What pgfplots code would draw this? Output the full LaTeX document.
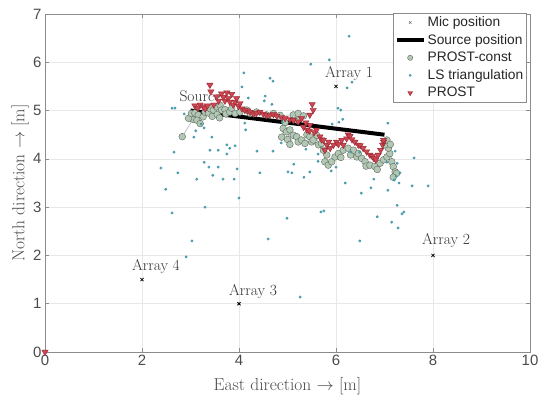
\documentclass[border=0pt]{standalone}
\usepackage{pgfplots}
\pgfplotsset{compat=1.18}
\usepackage{fontspec}
\newfontfamily\hv{Liberation Sans}
\definecolor{lscol}{RGB}{72,172,192}
\definecolor{circfill}{RGB}{178,200,180}
\definecolor{circedge}{RGB}{95,105,95}
\definecolor{redfill}{RGB}{205,70,82}
\definecolor{rededge}{RGB}{150,40,50}
\definecolor{gridc}{RGB}{232,232,232}
\definecolor{axc}{RGB}{140,140,140}
\definecolor{textc}{RGB}{75,75,75}
\begin{document}
\begin{tikzpicture}
\useasboundingbox (0,0) rectangle (539bp,396bp);
\begin{axis}[
  at={(45bp,44bp)}, anchor=south west,
  scale only axis, width=485bp, height=338bp,
  xmin=0, xmax=10, ymin=0, ymax=7,
  xtick={0,2,...,10}, ytick={0,1,...,7},
  grid=major, major grid style={color=gridc, line width=0.5bp},
  axis line style={color=axc, line width=0.6bp},
  tick style={color=axc, line width=0.6bp},
  tick align=inside, major tick length=4bp,
  /pgf/number format/assume math mode=true,
  ticklabel style={font=\hv\fontsize{15}{18}\selectfont, text=textc},
  xlabel={East direction $\rightarrow$ [m]},
  ylabel={North direction $\rightarrow$ [m]},
  every axis x label/.style={at={(axis description cs:0.5,-0.1006)}, anchor=center,
    font=\fontsize{17.5}{21}\selectfont, text=textc},
  every axis y label/.style={at={(axis description cs:-0.0515,0.5)}, anchor=center, rotate=90,
    font=\fontsize{17.5}{21}\selectfont, text=textc},
  legend style={at={(axis description cs:0.9938,1.003)}, anchor=north east,
    draw=axc, line width=0.6bp, fill=white, inner sep=1.5bp, row sep=2.3bp,
    font=\hv\fontsize{13.8}{16}\selectfont, text=black!85,
    /tikz/every even column/.style={column sep=0bp}},
  legend cell align=left,
]
\node[anchor=west, inner sep=0, font=\fontsize{15.6}{18}\selectfont, text=black!80] at (axis cs:2.77,5.29) {Source};
\node[anchor=west, inner sep=0, font=\fontsize{15.6}{18}\selectfont, text=black!80] at (axis cs:5.77,5.77) {Array 1};
\node[anchor=west, inner sep=0, font=\fontsize{15.6}{18}\selectfont, text=black!80] at (axis cs:7.77,2.30) {Array 2};
\node[anchor=west, inner sep=0, font=\fontsize{15.6}{18}\selectfont, text=black!80] at (axis cs:3.79,1.26) {Array 3};
\node[anchor=west, inner sep=0, font=\fontsize{15.6}{18}\selectfont, text=black!80] at (axis cs:1.79,1.77) {Array 4};

% PROST-const
\addplot[forget plot, color=black!40, line width=0.4bp, mark=*, mark size=3.4bp,
  mark options={fill=circfill, draw=circedge, line width=0.4bp}] coordinates {
(2.83,4.46)(3.05,4.82)(2.96,4.84)(3.02,4.94)(3.09,4.95)(3.16,4.91)(3.13,4.80)(3.20,4.73)
(3.26,4.87)(3.30,4.97)(3.37,4.95)(3.40,5.04)(3.45,4.88)(3.47,5.01)(3.54,5.08)(3.55,4.92)
(3.61,5.11)(3.60,4.85)(3.64,5.01)(3.71,5.02)(3.73,4.93)(3.81,4.97)(3.85,5.05)(3.92,4.94)
(4.02,4.97)(4.16,5.01)(4.23,4.94)(4.36,4.97)(4.57,4.91)(4.71,4.94)(4.85,4.90)(5.12,4.91)
(5.22,4.94)(5.33,4.89)(5.20,4.80)(4.95,4.75)(4.91,4.63)(4.88,4.45)(4.98,4.56)(5.00,4.40)
(5.05,4.60)(5.05,4.30)(5.12,4.49)(5.19,4.46)(5.22,4.35)(5.29,4.39)(5.36,4.32)(5.40,4.50)
(5.46,4.46)(5.50,4.35)(5.53,4.39)(5.60,4.49)(5.64,4.29)(5.70,4.32)(5.74,4.18)(5.81,4.08)
(5.77,3.94)(5.84,3.87)(5.91,3.94)(5.98,4.04)(6.05,4.11)(6.10,4.03)(6.15,4.18)(6.25,4.22)
(6.30,4.08)(6.36,4.18)(6.43,4.04)(6.46,4.11)(6.53,4.01)(6.60,3.94)(6.62,3.85)(6.70,3.87)
(6.80,3.84)(6.85,3.78)(6.91,3.91)(6.98,3.98)(7.05,4.04)(7.11,4.11)(7.08,4.22)(7.01,4.29)
(7.05,4.39)(7.12,4.30)(7.15,3.94)(7.18,3.84)(7.22,3.73)(7.25,3.70)(7.18,3.62)
};

% Source position
\addplot[forget plot, black, line width=4bp] coordinates {(3,5)(7,4.5)};

% LS triangulation
\addplot[forget plot, only marks, mark=*, mark size=1.3bp, color=lscol,
  mark options={draw=lscol!75!black, line width=0.2bp}] coordinates {
(6.27,6.54)(5.48,5.96)(5.86,6.05)(4.64,5.67)(4.70,5.61)(6.33,5.59)(6.23,5.47)(4.54,5.30)
(4.52,5.20)(4.68,5.13)(6.04,5.05)(6.10,5.01)(6.14,4.82)(4.10,5.78)(4.06,5.49)(4.19,5.26)
(2.62,5.05)(2.68,5.05)(2.87,4.93)(7.07,4.74)(3.22,4.72)(3.28,4.64)(3.11,4.58)(3.07,4.45)
(3.44,4.45)(4.14,4.60)(4.12,4.74)(2.66,4.14)(3.40,4.18)(3.57,4.18)(3.75,4.29)(3.81,4.22)
(3.92,4.27)(3.75,4.10)(4.37,4.16)(4.70,4.16)(4.87,4.33)(5.13,3.89)(5.01,3.73)(5.09,3.71)
(5.34,3.62)(5.46,3.73)(5.90,3.75)(2.39,3.81)(2.74,3.71)(3.28,3.93)(3.38,3.83)(3.57,3.83)
(3.46,3.66)(3.13,3.58)(3.67,3.58)(3.96,3.79)(3.90,3.58)(4.43,3.71)(2.49,3.37)(4.00,3.19)
(2.62,2.88)(3.30,3.00)(3.03,2.30)(4.60,2.34)(2.91,1.97)(6.19,3.50)(6.52,3.29)(6.72,3.40)
(7.07,3.35)(7.30,3.50)(7.57,3.44)(7.90,3.44)(7.26,3.04)(7.36,2.86)(7.40,2.90)(6.85,2.80)
(7.15,2.69)(7.28,2.57)(4.99,2.77)(5.69,2.90)(5.75,2.92)(6.49,2.30)(5.26,1.14)(7.61,4.02)
(7.22,4.16)(7.26,3.91)(7.05,3.93)(7.32,3.71)(7.24,3.64)(7.20,3.56)(4.89,4.76)(5.38,4.20)
(5.63,4.10)(5.75,4.18)(6.31,4.14)(6.49,4.14)(5.63,3.95)(6.00,3.83)(6.78,3.58)(6.06,4.76)
(5.92,4.72)
};

% PROST
\addplot[forget plot, only marks, mark=triangle*, mark size=3.6bp,
  mark options={rotate=180, fill=redfill, draw=rededge, line width=0.4bp}] coordinates {
(0,0)
(3.09,5.10)(3.15,5.05)(3.20,5.12)(3.26,5.08)(3.30,5.04)(3.35,5.10)(3.40,5.53)(3.42,5.39)
(3.48,5.12)(3.54,5.29)(3.58,5.20)(3.64,5.35)(3.68,5.28)(3.75,5.37)(3.78,5.25)(3.85,5.34)
(3.71,5.20)(3.81,5.18)(3.88,5.12)(3.92,5.18)(3.95,5.25)(3.99,5.09)(4.02,5.15)(4.06,5.04)
(4.12,5.01)(4.18,5.00)(4.23,4.97)(4.30,4.93)(4.36,4.95)(4.43,4.97)(4.50,4.93)(4.57,4.90)
(4.64,4.91)(4.71,4.92)(4.78,4.89)(4.88,4.86)(4.95,4.84)(5.05,4.82)(5.12,4.80)(5.22,4.77)
(5.29,4.84)(5.33,4.66)(5.38,4.75)(5.40,4.60)(5.45,4.58)(5.46,4.70)(5.51,5.13)(5.53,5.01)
(5.46,4.91)(5.55,4.55)(5.60,4.60)(5.67,4.46)(5.70,4.40)(5.74,4.39)(5.81,4.29)(5.85,4.35)
(5.88,4.22)(5.77,4.18)(5.95,4.29)(6.01,4.35)(6.05,4.30)(6.12,4.39)(6.22,4.42)(6.25,4.50)
(6.29,4.47)(6.33,4.40)(6.15,4.29)(6.39,4.35)(6.46,4.29)(6.50,4.28)(6.56,4.22)(6.63,4.15)
(6.70,4.08)(6.75,4.05)(6.78,4.01)(6.82,3.98)(6.87,4.08)(6.92,4.18)(6.96,4.29)(6.98,4.35)
(6.98,4.39)
};

% Mic position
\addplot[forget plot, only marks, mark=x, mark size=2.2bp, black, line width=0.8bp]
  coordinates {(6,5.5)(8,2)(4,1)(2,1.5)};

\addlegendimage{legend image code/.code={\path (0bp,0bp) (27bp,0bp);
  \draw[black!55, line width=0.5bp] plot[mark=x, mark size=1.8bp] coordinates {(13.5bp,0bp)};}}
\addlegendentry{Mic position}
\addlegendimage{legend image code/.code={\draw[black, line width=4bp] (0bp,0bp) -- (27bp,0bp);}}
\addlegendentry{Source position}
\addlegendimage{legend image code/.code={\path (0bp,0bp) (27bp,0bp);
  \draw plot[mark=*, mark size=2.6bp, mark options={fill=circfill, draw=circedge, line width=0.4bp}] coordinates {(13.5bp,0bp)};}}
\addlegendentry{PROST-const}
\addlegendimage{legend image code/.code={\path (0bp,0bp) (27bp,0bp);
  \draw plot[mark=*, mark size=1.2bp, mark options={fill=lscol, draw=lscol!75!black, line width=0.2bp}] coordinates {(13.5bp,0bp)};}}
\addlegendentry{LS triangulation}
\addlegendimage{legend image code/.code={\path (0bp,0bp) (27bp,0bp);
  \draw plot[mark=triangle*, mark size=2.8bp, mark options={rotate=180, fill=redfill, draw=rededge, line width=0.4bp}] coordinates {(13.5bp,0bp)};}}
\addlegendentry{PROST}
\end{axis}
\end{tikzpicture}
\end{document}
